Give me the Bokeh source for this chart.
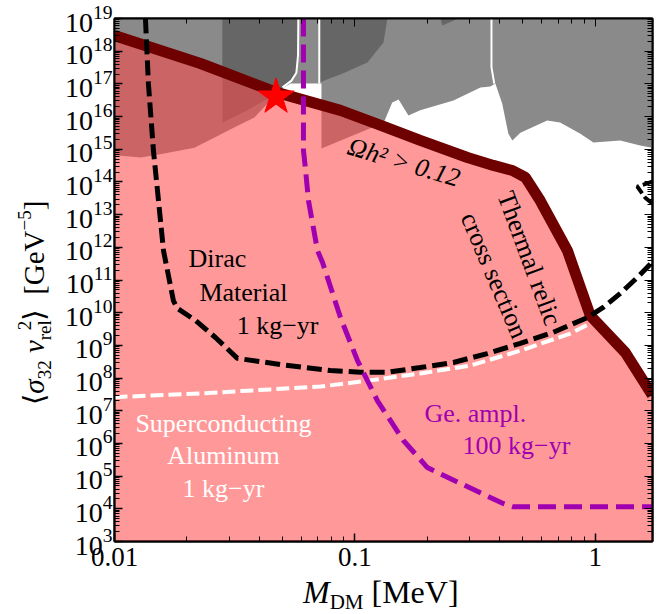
import numpy as np
from bokeh.plotting import figure
from bokeh.models import FixedTicker, LogAxis, CustomJSTickFormatter, Div
from bokeh.layouts import row, column
from bokeh.core.properties import value
from bokeh.embed import file_html
from bokeh.resources import INLINE

# ---------------- data ----------------
# thermal relic cross section (Omega h^2 = 0.12)
relic_mass = [0.0100, 0.0228, 0.0472, 0.0871, 0.1315, 0.187, 0.294, 0.377, 0.452,
              0.512, 0.590, 0.766, 0.953, 1.334, 1.726]
relic_sigma = [3.0e18, 4.2e17, 5.5e16, 1.55e16, 5.0e15, 1.86e15, 5.6e14, 3.2e14, 2.24e14,
               1.38e14, 2.7e13, 7.9e11, 8.2e9, 6.0e8, 3.0e7]

# excluded regions (gray)
light_mass = [0.0100, 1.726, 1.726, 1.538, 1.271, 0.982, 0.867, 0.714, 0.631, 0.488,
              0.452, 0.435, 0.410, 0.384, 0.366, 0.333, 0.257, 0.187, 0.167, 0.152,
              0.143, 0.1315, 0.116, 0.0726, 0.0726, 0.0540, 0.0500, 0.0472, 0.0433,
              0.0382, 0.0316, 0.0261, 0.0215, 0.0161, 0.0129, 0.0100]
light_sigma = [1e19, 1e19, 1.12e15, 1.30e15, 1.86e15, 1.62e15, 3.0e15, 6.6e15, 7.6e15, 3.2e15,
               1.86e15, 3.0e15, 2.5e16, 1.02e17, 8.3e16, 7.8e16, 3.1e16, 1.55e16, 1.07e16, 3.3e16,
               2.7e16, 6.2e15, 4.4e15, 1.05e15, 1.02e17, 1.02e17, 7.2e16, 3.8e16, 2.5e16,
               9.3e15, 4.7e15, 2.3e15, 1.12e15, 7.4e14, 5.6e14, 6.5e14]

dark1_mass = [0.0281, 0.0577, 0.0577, 0.0540, 0.0500, 0.0472, 0.0421, 0.0357, 0.0281]
dark1_sigma = [1e19, 1e19, 2.6e17, 1.26e17, 7.8e16, 4.4e16, 3.1e16, 1.55e16, 6.6e15]

dark2_mass = [0.0711, 0.1365, 0.1315, 0.1127, 0.0895, 0.0711]
dark2_sigma = [1e19, 1e19, 1.86e18, 4.5e17, 2.1e17, 1.1e17]

dark3_mass = [0.227, 0.269, 0.231]
dark3_sigma = [1e19, 1e19, 6.1e18]

# white boundary lines inside the gray regions
edge1_mass = [0.0500, 0.0545, 0.0571, 0.0580, 0.0582]
edge1_sigma = [7.8e16, 1.26e17, 2.2e17, 7.4e17, 1e19]
edge2_mass = [0.0711, 0.0711]
edge2_sigma = [1e19, 1.02e17]
edge3_mass = [0.370, 0.370, 0.380]
edge3_sigma = [1e19, 3.2e17, 1.02e17]

# Dirac material, 1 kg-yr
dirac_mass = [0.01345, 0.01384, 0.01452, 0.01524, 0.01599, 0.01759, 0.01827, 0.02173,
              0.02630, 0.03246, 0.04894, 0.07907, 0.1054, 0.1365, 0.1870, 0.2569,
              0.3554, 0.4878, 0.6683, 0.9268, 1.079, 1.271, 1.496, 1.726]
dirac_sigma = [1e19, 1.0e17, 9.1e14, 2.7e13, 7.9e11, 2.3e10, 1.35e10, 5.8e9,
               1.74e9, 4.0e8, 2.6e8, 1.7e8, 1.5e8, 1.5e8, 2.1e8, 3.0e8,
               5.6e8, 1.15e9, 2.5e9, 7.1e9, 1.45e10, 3.9e10, 1.2e11, 3.5e11]
dirac2_mass = [1.726, 1.496, 1.614, 1.726]
dirac2_sigma = [1.02e14, 7.2e13, 3.3e13, 2.2e13]

# Germanium amplifier, 100 kg-yr
ge_mass = [0.0611, 0.0611, 0.0622, 0.0641, 0.0699, 0.0733, 0.0871, 0.1024, 0.1240,
           0.1592, 0.2002, 0.2747, 0.4137, 0.4560, 1.726]
ge_sigma = [1e19, 9.1e14, 2.8e14, 2.7e13, 7.9e11, 3.5e11, 7.1e9, 3.5e8, 2.05e7,
            1.23e6, 1.83e5, 6.0e4, 1.46e4, 1.15e4, 1.15e4]

# Superconducting aluminum, 1 kg-yr
al_mass = [0.0100, 0.0228, 0.0446, 0.0720, 0.1160, 0.1870, 0.3020, 0.4878, 0.7870, 0.9532]
al_sigma = [2.6e7, 3.4e7, 4.5e7, 5.5e7, 8.5e7, 1.38e8, 2.4e8, 6.9e8, 2.3e9, 4.7e9]

star_mass = [0.047]
star_sigma = [4.0e16]

x_ticks = [0.01, 0.1, 1]
x_tick_labels = ["0.01", "0.1", "1"]
y_ticks = [10.0 ** k for k in range(3, 20)]

# ---------------- figure ----------------
LEFT_W = 56
BOTTOM_H = 32
p = figure(width=657 - LEFT_W, height=614 - BOTTOM_H, x_axis_type="log", y_axis_type="log",
           x_range=(0.01, 1.73), y_range=(1e3, 1e19),
           output_backend="svg", toolbar_location=None,
           min_border_left=114 - LEFT_W, min_border_right=5, min_border_top=18,
           min_border_bottom=541 - (614 - BOTTOM_H) * 0 - 541 + (614 - BOTTOM_H) - 541)
p.min_border_bottom = (614 - BOTTOM_H) - 541
p.xgrid.visible = False
p.ygrid.visible = False
p.background_fill_color = "white"
p.border_fill_color = "white"
p.outline_line_color = "black"
p.outline_line_width = 2

LG = "#8a8a8a"
DG = "#666666"
p.patch(light_mass, light_sigma, fill_color=LG, line_color=None)
p.patch(dark1_mass, dark1_sigma, fill_color=DG, line_color=None)
p.patch(dark2_mass, dark2_sigma, fill_color=DG, line_color=None)
p.patch(dark3_mass, dark3_sigma, fill_color=DG, line_color=None)
for mx, sy in [(edge1_mass, edge1_sigma), (edge2_mass, edge2_sigma), (edge3_mass, edge3_sigma)]:
    p.line(mx, sy, line_color="white", line_width=2)

# pink region below the relic curve
p.varea(x=relic_mass, y1=[1e2] * len(relic_mass), y2=relic_sigma,
        fill_color="#ff4949", fill_alpha=0.56)

p.line(relic_mass, relic_sigma, line_color="#6e0000", line_width=11)

p.line(al_mass, al_sigma, line_color="white", line_width=4, line_dash="13 5")
p.line(dirac_mass, dirac_sigma, line_color="black", line_width=5, line_dash="15 6")
p.line(dirac2_mass, dirac2_sigma, line_color="black", line_width=4, line_dash="10 4")
p.line(ge_mass, ge_sigma, line_color="#a000b0", line_width=5, line_dash="18 8")

p.scatter(star_mass, star_sigma, marker="star", size=38, fill_color="#ff0000",
          line_color="#ff0000")

SERIF = "Liberation Serif"
def txt(xs, ys, texts, color, angle=0.0, style="normal", size="26px"):
    p.text(x=xs, y=ys, text=texts, text_color=color, angle=angle,
           text_font=value(SERIF), text_font_size=value(size), text_font_style=style,
           text_align="center", text_baseline="middle")

txt([0.0268, 0.0344, 0.0477], [4.6e11, 4.2e10, 4.1e9], ["Dirac", "Material", "1 kg\u2212yr"], "black")
txt([0.0284, 0.0284, 0.0284], [4.1e6, 4.3e5, 4.2e4],
    ["Superconducting", "Aluminum", "1 kg\u2212yr"], "white")
txt([0.317, 0.470], [8.3e6, 8.7e5], ["Ge. ampl.", "100 kg\u2212yr"], "#a000b0")
txt([0.160], [4.0e14], ["\u03a9h\u00b2 > 0.12"], "black", angle=-0.29, style="italic")
txt([0.532], [4.6e11], ["Thermal relic"], "black", angle=-1.216)
txt([0.380], [1.38e11], ["cross section"], "black", angle=-1.167)

# ---------------- axes ----------------
xt = FixedTicker(ticks=x_ticks,
                 minor_ticks=[k * 0.01 for k in range(2, 10)] + [k * 0.1 for k in range(2, 10)] + [2.0])
yt = FixedTicker(ticks=y_ticks,
                 minor_ticks=[k * 10.0 ** n for n in range(3, 19) for k in range(2, 10)])

xa = p.xaxis[0]
ya = p.yaxis[0]
xa.ticker = xt
ya.ticker = yt
xa.major_label_overrides = {t: s for t, s in zip(x_ticks, x_tick_labels)}
for ax in (xa, ya):
    ax.major_tick_in = 8
    ax.major_tick_out = 0
    ax.minor_tick_in = 5
    ax.minor_tick_out = 0
    ax.axis_line_width = 2
    ax.major_tick_line_width = 1.5
    ax.minor_tick_line_width = 1
    ax.major_label_text_font = SERIF
    ax.major_label_text_color = "black"
xa.major_label_text_font_size = "27px"
ya.major_label_text_font_size = "28px"
xa.major_label_standoff = 6
ya.major_label_standoff = 2

blank = CustomJSTickFormatter(code="return ''")
for loc, tk in (("above", xt), ("right", yt)):
    ax = LogAxis(ticker=tk, formatter=blank)
    ax.major_tick_in = 8
    ax.major_tick_out = 0
    ax.minor_tick_in = 5
    ax.minor_tick_out = 0
    ax.axis_line_width = 2
    ax.major_label_text_font_size = "2px"
    ax.major_label_standoff = 0
    p.add_layout(ax, loc)

# ---------------- axis titles (HTML text) ----------------
FONT = "font-family:'Liberation Serif','DejaVu Serif',serif; color:black; white-space:nowrap; line-height:1;"
ylabel_html = (
    f'<div style="position:relative; width:{LEFT_W}px; height:{614 - BOTTOM_H}px;">'
    f'<div style="position:absolute; left:20px; top:405px; transform-origin:0 0; '
    f'transform:rotate(-90deg); font-size:29px; {FONT}">'
    '\u27e8<i>\u03c3</i><span style="font-size:19px; position:relative; top:7px;">32</span>'
    '&nbsp;<i>v</i><span style="font-size:19px; position:relative; top:7px;">rel</span>'
    '<span style="font-size:19px; position:relative; top:-13px; margin-left:-10px;">2</span>'
    '\u27e9&nbsp;&nbsp;[GeV<span style="font-size:19px; position:relative; top:-13px;">\u22125</span>]'
    '</div></div>'
)
xlabel_html = (
    f'<div style="position:relative; width:657px; height:{BOTTOM_H}px;">'
    f'<div style="position:absolute; left:303px; top:-6px; font-size:32px; {FONT}">'
    '<i>M</i><span style="font-size:21px; position:relative; top:6px;">DM</span>'
    '&nbsp;[MeV]</div></div>'
)
ylabel = Div(text=ylabel_html, width=LEFT_W, height=614 - BOTTOM_H, margin=0)
xlabel = Div(text=xlabel_html, width=657, height=BOTTOM_H, margin=0)

layout = column(row(ylabel, p, spacing=0), xlabel, spacing=0)

open("out.html", "w").write(file_html(layout, INLINE))
